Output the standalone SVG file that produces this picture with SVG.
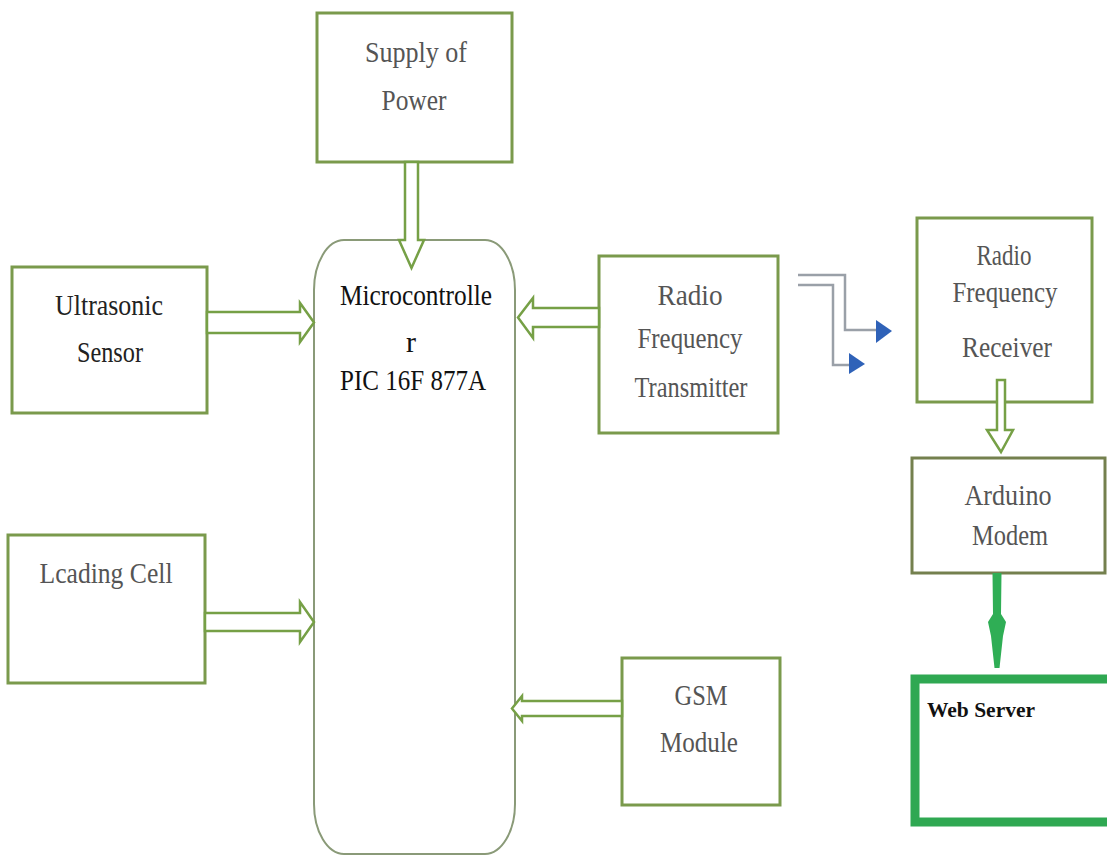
<svg xmlns="http://www.w3.org/2000/svg" width="1107" height="856" viewBox="0 0 1107 856">
<style>
.box{fill:#fff;stroke:#7a9a4c;stroke-width:3}
.mcu{fill:#fff;stroke:#8a9a78;stroke-width:2}
.arr{fill:#fff;stroke:#76a046;stroke-width:2.5;stroke-linejoin:miter}
.wire{fill:none;stroke:#9aa0a8;stroke-width:2.5}
.bh{fill:#2f62b8}
text{font-family:"Liberation Serif","Times New Roman",serif;font-size:30px;fill:#555;text-anchor:middle}
.dk{fill:#222}
.bk{fill:#111}
.ws{font-weight:bold;font-size:21px;fill:#111;text-anchor:start}
</style>
<rect width="1107" height="856" fill="#fff"/>
<g id="supply"><rect class="box" x="317" y="13" width="195" height="149"/>
<text x="416" y="62" textLength="102" lengthAdjust="spacingAndGlyphs">Supply of</text>
<text x="414" y="110" textLength="65" lengthAdjust="spacingAndGlyphs">Power</text></g>
<g id="ultrasonic"><rect class="box" x="12" y="267" width="195" height="146"/>
<text class="dk" x="109" y="315" textLength="108" lengthAdjust="spacingAndGlyphs">Ultrasonic</text>
<text class="dk" x="110" y="362" textLength="66" lengthAdjust="spacingAndGlyphs">Sensor</text></g>
<g id="loadcell"><rect class="box" x="8" y="535" width="197" height="148"/>
<text x="106" y="583" textLength="133" lengthAdjust="spacingAndGlyphs">Lcading Cell</text></g>
<g id="mcu"><rect class="mcu" x="314" y="240" width="201" height="614" rx="30" ry="50"/>
<text class="bk" x="416" y="305" textLength="152" lengthAdjust="spacingAndGlyphs">Microcontrolle</text>
<text class="bk" x="411" y="352">r</text>
<text class="bk" x="413" y="390" textLength="146" lengthAdjust="spacingAndGlyphs">PIC 16F 877A</text></g>
<g id="rftx"><rect class="box" x="599" y="256" width="179" height="177"/>
<text x="690" y="305" textLength="65" lengthAdjust="spacingAndGlyphs">Radio</text>
<text x="690" y="348" textLength="105" lengthAdjust="spacingAndGlyphs">Frequency</text>
<text x="691" y="397" textLength="113" lengthAdjust="spacingAndGlyphs">Transmitter</text></g>
<g id="gsm"><rect class="box" x="622" y="658" width="158" height="147"/>
<text x="701" y="705" textLength="53" lengthAdjust="spacingAndGlyphs">GSM</text>
<text x="699" y="752" textLength="78" lengthAdjust="spacingAndGlyphs">Module</text></g>
<g id="rfrx"><rect class="box" x="917" y="218" width="175" height="184"/>
<text x="1004" y="265" textLength="55" lengthAdjust="spacingAndGlyphs">Radio</text>
<text x="1005" y="302" textLength="105" lengthAdjust="spacingAndGlyphs">Frequency</text>
<text x="1007" y="357" textLength="90" lengthAdjust="spacingAndGlyphs">Receiver</text></g>
<g id="arduino"><rect class="box" x="912" y="458" width="193" height="115" style="stroke:#74804e"/>
<text x="1008" y="505" textLength="87" lengthAdjust="spacingAndGlyphs">Arduino</text>
<text x="1010" y="545" textLength="76" lengthAdjust="spacingAndGlyphs">Modem</text></g>
<g id="webserver"><rect x="915" y="679" width="200" height="143" fill="#fff" stroke="#2fa852" stroke-width="9"/>
<text class="ws" x="927" y="717" textLength="108" lengthAdjust="spacingAndGlyphs">Web Server</text></g>
<g id="connectors">
<polygon class="arr" points="405,162 405,240 399,240 411.5,268 424,240 418,240 418,162"/>
<polygon class="arr" points="207,312 300,312 300,303 314,322.5 300,342 300,333 207,333"/>
<polygon class="arr" points="205,613 300,613 300,602 314,622 300,642 300,631 205,631"/>
<polygon class="arr" points="599,308 533,308 533,298 518,317.5 533,338 533,327 599,327"/>
<polygon class="arr" points="622,701 522,701 522,696 512,708.5 522,721 522,716 622,716"/>
<polyline class="wire" points="798,275 845,275 845,330 878,330"/>
<polygon class="bh" points="876,320 892,331 876,343"/>
<polyline class="wire" points="798,285 833,285 833,365 851,365"/>
<polygon class="bh" points="849,353 865,364 849,374"/>
<polygon class="arr" points="997,380 997,430 987,430 1001,452 1013,430 1005,430 1005,380"/>
<path d="M992.5,573 L1001.5,573 L1001,614 L1006,622 L1003,636 L999.5,668 L994.5,668 L991,636 L988,622 L993,614 Z" fill="#2fae55"/>
</g>
</svg>
